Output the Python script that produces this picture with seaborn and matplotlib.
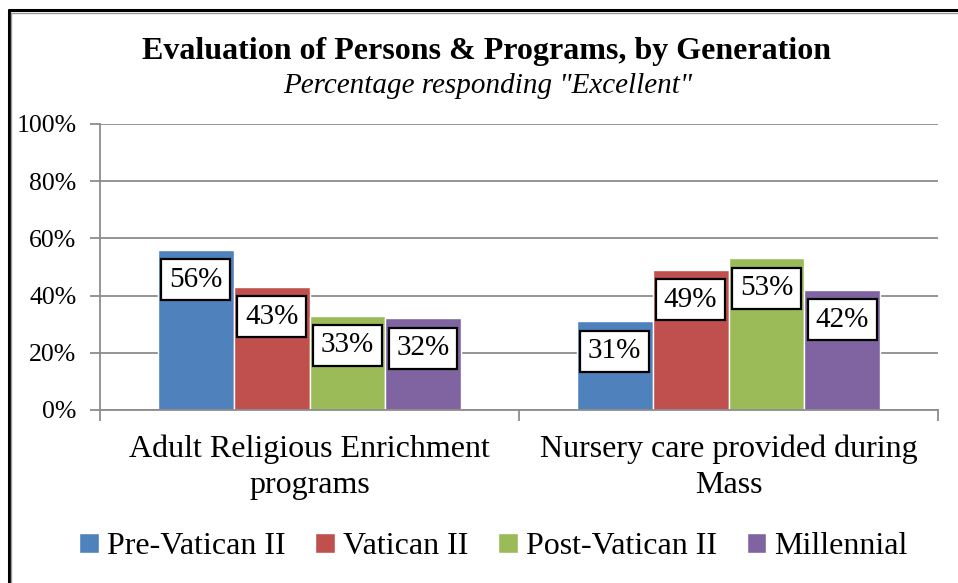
import pandas as pd
import matplotlib
matplotlib.use("Agg")
import matplotlib.pyplot as plt
from matplotlib.lines import Line2D
from matplotlib.ticker import FixedLocator, NullFormatter
import seaborn as sns

categories = ["Adult Religious Enrichment\nprograms", "Nursery care provided during\nMass"]
generations = ["Pre-Vatican II", "Vatican II", "Post-Vatican II", "Millennial"]
pre_vatican = [56, 31]
vatican = [43, 49]
post_vatican = [33, 53]
millennial = [32, 42]
colors = ["#4F81BD", "#C0504D", "#9BBB59", "#8064A2"]

rows = []
for gen, vals in zip(generations, [pre_vatican, vatican, post_vatican, millennial]):
    for cat, v in zip(categories, vals):
        rows.append({"Item": cat, "Generation": gen, "Pct": v})
df = pd.DataFrame(rows)

sns.set_style("white")
plt.rcParams["font.family"] = ["Liberation Serif", "DejaVu Serif"]
plt.rcParams["text.color"] = "black"
plt.rcParams["xtick.labelcolor"] = "black"
plt.rcParams["ytick.labelcolor"] = "black"

fig = plt.figure(figsize=(9.58, 5.83), dpi=100)
ax = fig.add_axes([100 / 958, 1 - 410 / 583, 838 / 958, 286 / 583])

sns.barplot(data=df, x="Item", y="Pct", hue="Generation", order=categories,
            hue_order=generations, palette=colors, width=0.724,
            saturation=1, ax=ax, legend=True)

ax.set_xlim(-0.5, 1.5)
ax.set_ylim(0, 100)
ax.set_yticks([0, 20, 40, 60, 80, 100])
ax.set_yticklabels([f"{t}%" for t in range(0, 101, 20)], fontsize=18.5)
ax.yaxis.grid(True, color="#8C8C8C", linewidth=1.3)
ax.set_axisbelow(True)

# category labels on minor ticks, boundary ticks on major
ax.xaxis.set_major_locator(FixedLocator([-0.5, 0.5, 1.5]))
ax.xaxis.set_major_formatter(NullFormatter())
ax.xaxis.set_minor_locator(FixedLocator([0, 1]))
ax.set_xticklabels(categories, minor=True, fontsize=23, linespacing=1.3)
ax.tick_params(axis="x", which="major", length=8, width=1.3, color="#8C8C8C", bottom=True)
ax.tick_params(axis="x", which="minor", length=0, pad=18)
ax.tick_params(axis="y", length=7, width=1.3, color="#8C8C8C", left=True, pad=10)

for s in ["top", "right"]:
    ax.spines[s].set_visible(False)
for s in ["left", "bottom"]:
    ax.spines[s].set_color("#8C8C8C")
    ax.spines[s].set_linewidth(1.3)

ax.set_xlabel("")
ax.set_ylabel("")

# data labels in boxes
for cont in ax.containers:
    for bar in cont:
        h = bar.get_height()
        ax.text(bar.get_x() + bar.get_width() / 2, h - 10.4, f"{h:.0f}%",
                ha="center", va="center", fontsize=21,
                bbox=dict(boxstyle="square,pad=0.26", facecolor="white",
                          edgecolor="black", linewidth=1.6))

handles, labels = ax.get_legend_handles_labels()
ax.legend_.remove()
fig.legend(handles, labels, loc="center", bbox_to_anchor=(0.515, 1 - 547 / 583),
           ncol=4, frameon=False, fontsize=23, handlelength=0.6, handleheight=0.6,
           handletextpad=0.25, columnspacing=0.95)

fig.text(0.508, 1 - 51 / 583, "Evaluation of Persons & Programs, by Generation",
         ha="center", va="center", fontsize=23, fontweight="bold")
fig.text(0.509, 1 - 86 / 583, "Percentage responding \"Excellent\"",
         ha="center", va="center", fontsize=21, style="italic")

# chart frame (top and left edges visible)
fig.add_artist(Line2D([8.5 / 958, 8.5 / 958], [0, 1 - 10 / 583], color="black", linewidth=2.2, transform=fig.transFigure))
fig.add_artist(Line2D([8.5 / 958, 1], [1 - 10 / 583, 1 - 10 / 583], color="black", linewidth=2.2, transform=fig.transFigure))
fig.add_artist(Line2D([11 / 958, 11 / 958], [0, 1 - 12.5 / 583], color="#9A9A9A", linewidth=1, transform=fig.transFigure))
fig.add_artist(Line2D([11 / 958, 1], [1 - 12.5 / 583, 1 - 12.5 / 583], color="#9A9A9A", linewidth=1, transform=fig.transFigure))

fig.savefig("out.png", dpi=100)
